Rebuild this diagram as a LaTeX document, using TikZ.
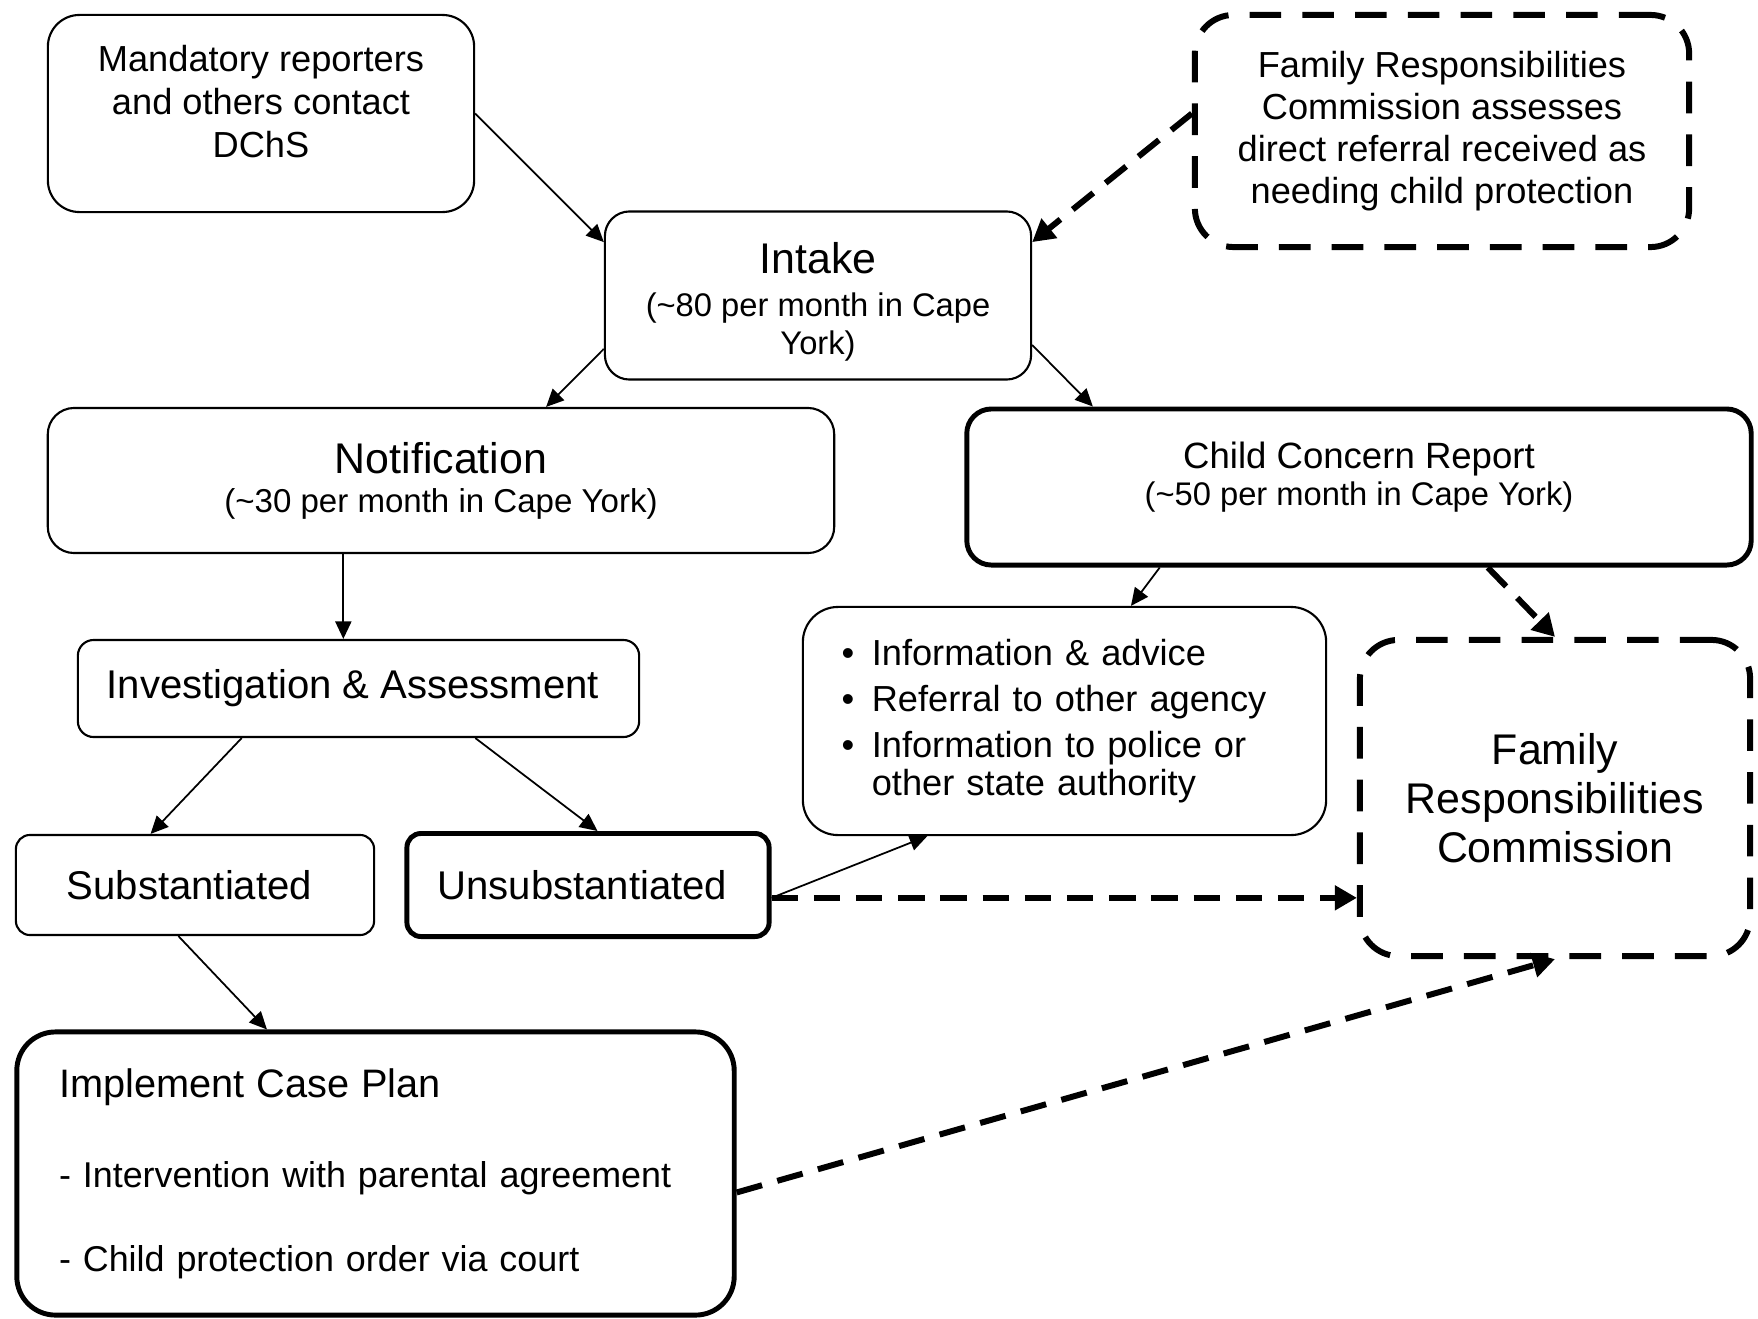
\documentclass[tikz,border=0pt]{standalone}
\usepackage{fontspec}
\setmainfont{Liberation Sans}
\usetikzlibrary{arrows.meta}
\makeatletter
\def\@listi{\leftmargin\leftmargini \topsep\z@ \partopsep\z@ \parsep\z@ \itemsep 2pt}
\let\@listI\@listi
\makeatother
\setlength{\leftmargini}{15.6pt}
\setlength{\labelsep}{5pt}
\newcommand{\lift}[1]{\rule[-#1]{0pt}{#1}}
\newcommand{\sink}[1]{\rule{0pt}{#1}}
\newcommand{\fs}[2]{\fontsize{#1}{#2}\selectfont}
\tikzset{
box/.style={
    draw,
    rounded corners=7pt,
    line width=0.6pt,
    align=center,
    inner sep=3pt,
    font=\fs{10.3}{12.2}
},
heavybox/.style={
    box,
    line width=1.4pt
},
dashbox/.style={
    box,
    line width=1.7pt,
    dash pattern=on 9pt off 6pt,
    rounded corners=11pt
},
dashlink/.style={
    -{Triangle[length=6.3pt,width=6.8pt]},
    line width=1.7pt,
    dash pattern=on 7.5pt off 4.5pt
}
}

\begin{document}
\begin{tikzpicture}[
    x=0.01cm, y=-0.01cm,
    >={Triangle[length=5pt,width=4.6pt]},
    line width=0.5pt
]
\useasboundingbox (0,0) rectangle (1758,1318);

% TOP: REPORTS COMING IN
\node[box, minimum width=4.26cm, minimum height=1.97cm, rounded corners=9pt] (report) at (261,113.5) {
Mandatory reporters\\
and others contact\\
DChS\lift{7pt}
};

\node[dashbox, minimum width=4.94cm, minimum height=2.32cm, font=\fs{10.3}{11.9}] (frcref) at (1442,131) {
Family Responsibilities\\
Commission assesses\\
direct referral received as\\
needing child protection
};

\node[box, minimum width=4.26cm, minimum height=1.68cm, font=\fs{9.3}{11}] (intake) at (818,295.5) {
{\fs{12.2}{12.2}Intake}\sink{12.4pt}\\[1.2pt]
(\textasciitilde80 per month in Cape\\
York)
};

% MIDDLE: TWO STREAMS
\node[box, minimum width=7.86cm, minimum height=1.45cm, rounded corners=7.5pt, font=\fs{9.4}{10.5}] (notif) at (441,480.5) {
{\fs{12.2}{12.2}Notification}\\[0.6pt]
(\textasciitilde30 per month in Cape York)
};

\node[heavybox, minimum width=7.84cm, minimum height=1.56cm, font=\fs{9.3}{10.5}] (ccr) at (1359,487) {
{\fs{10.4}{10.4}Child Concern Report}\\
(\textasciitilde50 per month in Cape York)\lift{7.4pt}
};

\node[box, minimum width=5.61cm, minimum height=0.97cm, rounded corners=4.5pt, font=\fs{11.4}{13}] (invest) at (358.5,688.5) {
Investigation \& Assessment
};

\node[box, align=left, text width=140.8pt, inner xsep=4pt, minimum width=5.23cm, minimum height=2.28cm, rounded corners=10pt, font=\fs{10.3}{11}] (advice) at (1064.5,721) {
\begin{itemize}
\item Information \& advice
\item Referral to other agency
\item Information to police or other state authority\lift{5.4pt}
\end{itemize}
};

\node[dashbox, minimum width=3.9cm, minimum height=3.16cm, font=\fs{12.2}{13.9}] (frc) at (1555,798) {
Family\\
Responsibilities\\
Commission
};

% OUTCOMES
\node[box, minimum width=3.58cm, minimum height=1cm, rounded corners=4pt, font=\fs{11.4}{13}] (subst) at (195,885) {
Substantiated
};

\node[heavybox, minimum width=3.62cm, minimum height=1.03cm, rounded corners=4pt, font=\fs{11.4}{13}] (unsubst) at (588,885) {
Unsubstantiated
};

\node[heavybox, align=left, text width=180pt, inner xsep=12pt, minimum width=7.17cm, minimum height=2.83cm, rounded corners=11pt, font=\fs{10.2}{12.2}] (plan) at (375.5,1173.5) {
{\fs{11.3}{12.2}Implement Case Plan}\\[13.3pt]
- Intervention with parental agreement\\[11.7pt]
- Child protection order via court
};

% ARROWS
\draw[->] (report.east) -- (intake.166);
\draw[dashlink] (frcref.176) -- (intake.14);
\draw[->] (intake.194) -- (notif.35);
\draw[->] (intake.347) -- ([xshift=-2.66cm]ccr.north);
\draw[->] (notif.217) -- (notif.217 |- invest.north);
\draw[->] (invest.203) -- (subst.131);
\draw[->] (invest.337) -- (unsubst.80);
\draw[->] (subst.252) -- (plan.127);
\draw[->] (unsubst.356) -- (advice.220);
\draw[dashlink] (unsubst.356) -- (unsubst.356 -| frc.west);
\draw[->] (ccr.202) -- (advice.60);
\draw[dashlink] (ccr.328) -- (frc.north);
\draw[dashlink] (plan.357) -- (frc.south);

\end{tikzpicture}
\end{document}
